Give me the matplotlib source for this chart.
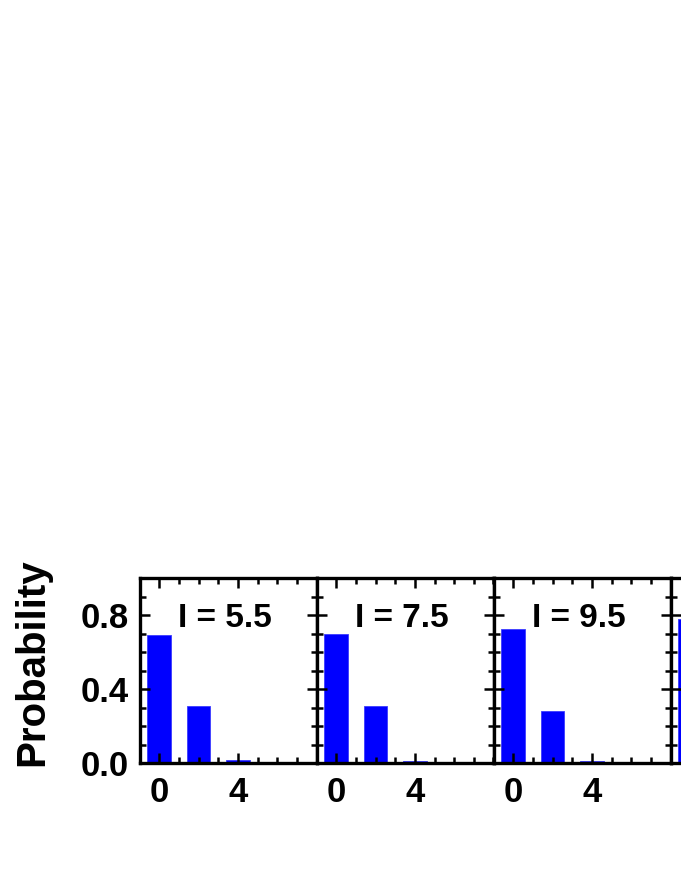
import matplotlib
matplotlib.use("Agg")
import matplotlib.pyplot as plt
from matplotlib.ticker import MultipleLocator, FixedLocator

plt.rcParams['font.family'] = ['Liberation Sans', 'DejaVu Sans']
plt.rcParams['font.weight'] = 'bold'

# photon number n and the probability in each panel
n = [0, 2, 4]
labels = ['I = 5.5', 'I = 7.5', 'I = 9.5', 'I = 11.5']
p55 = [0.69, 0.31, 0.015]
p75 = [0.70, 0.31, 0.013]
p95 = [0.725, 0.28, 0.01]
p115 = [0.78, 0.22, 0.005]
probs = [p55, p75, p95, p115]

fig = plt.figure(figsize=(6.81, 8.81), dpi=100)

W, H = 681, 881
left0 = 139.5
pw = 177
bottom = 763
ph = 185

for i in range(4):
    ax = fig.add_axes([(left0 + i * pw) / W, 1 - bottom / H, pw / W, ph / H])
    ax.bar(n, probs[i], width=1.2, color='blue', edgecolor='#3b3bff', linewidth=0.6)
    ax.set_xlim(-1, 8)
    ax.set_ylim(0, 1.0)
    ax.xaxis.set_major_locator(FixedLocator([0, 4]))
    ax.xaxis.set_minor_locator(MultipleLocator(1))
    ax.yaxis.set_major_locator(FixedLocator([0.0, 0.4, 0.8]))
    ax.yaxis.set_minor_locator(MultipleLocator(0.1))
    ax.tick_params(which='both', direction='in', top=True, right=True, width=1.8)
    ax.tick_params(which='major', length=7.5, labelsize=25)
    ax.tick_params(axis='x', which='major', pad=9)
    ax.tick_params(axis='y', which='major', pad=8)
    ax.tick_params(which='minor', length=4.5)
    for s in ax.spines.values():
        s.set_linewidth(2.4)
    for lab in ax.get_xticklabels() + ax.get_yticklabels():
        lab.set_fontweight('bold')
    if i == 0:
        ax.set_yticklabels(['0.0', '0.4', '0.8'])
        ax.set_ylabel('Probability', fontsize=29, fontweight='bold')
        ax.yaxis.set_label_coords(-0.50, 0.545)
    else:
        ax.set_yticklabels([])
    ax.text(3.35, 0.78, labels[i], ha='center', va='center', fontsize=24, fontweight='bold')

fig.savefig('out.png', dpi=100)
